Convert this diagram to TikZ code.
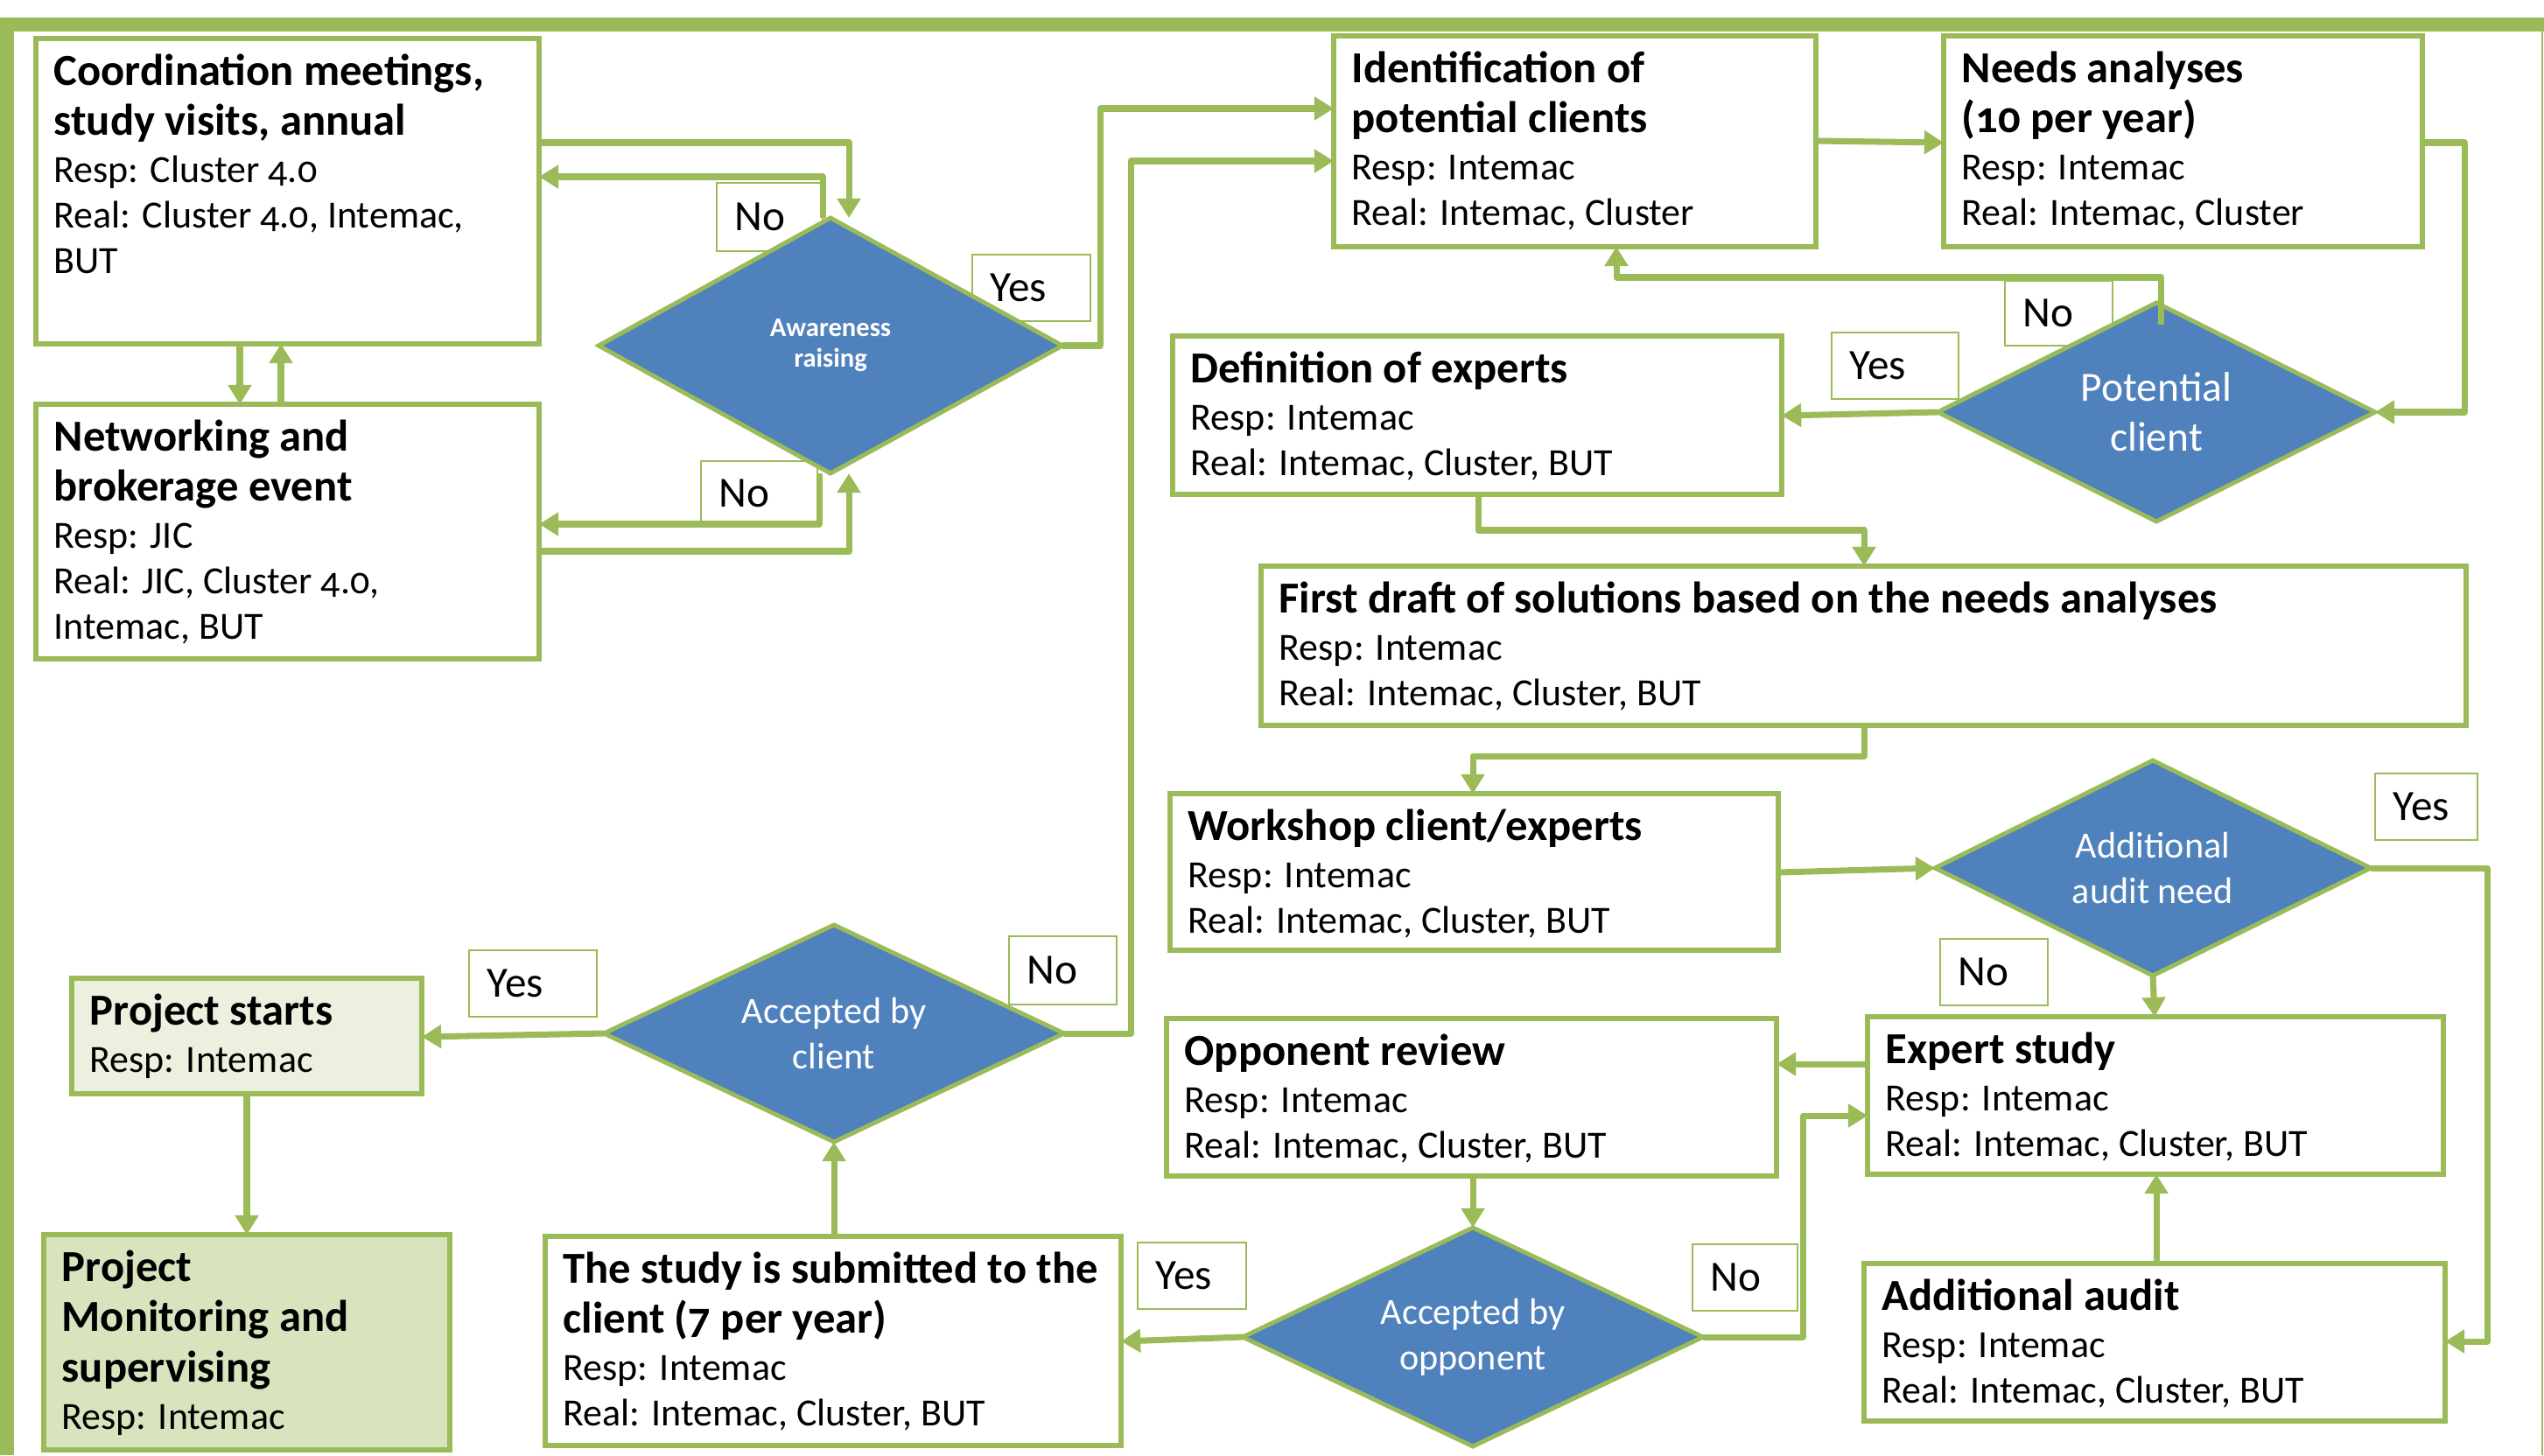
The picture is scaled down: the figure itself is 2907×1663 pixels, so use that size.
\documentclass[tikz,border=0pt]{standalone}
\usepackage{fontspec}
\setmainfont{Carlito}[Numbers=OldStyle]
\usetikzlibrary{arrows.meta,calc,shapes.geometric}
\definecolor{gr}{HTML}{9BBB59}
\definecolor{bl}{HTML}{4F81BD}
\definecolor{lgA}{HTML}{EBF1DE}
\definecolor{lgB}{HTML}{D7E4BD}
\newcommand{\ttl}{\fontsize{14.4}{14.8}\selectfont\bfseries}
\newcommand{\bdy}{\fontsize{12.5}{14.8}\selectfont\mdseries}
\tikzset{
 procbox/.style={draw=gr, line width=1.9pt, rectangle, inner sep=0pt, outer sep=0pt},
 ptext/.style={align=left, inner sep=0pt, font=\bdy},
 lblbox/.style={draw=gr, line width=0.6pt, fill=white, rectangle, inner sep=0pt, outer sep=0pt},
 lbltext/.style={inner sep=0pt, font=\fontsize{14}{17}\selectfont},
 dia/.style={diamond, aspect=2, draw=gr, line width=1.4pt, fill=bl, text=white, align=center, inner sep=0pt, outer sep=0pt},
 conn/.style={draw=gr, line width=2pt, line join=round, -{Triangle[length=6.3pt,width=7.4pt]}},
}
\newcommand{\mkproc}[7][white]{%
  \node[procbox, fill=#1, minimum width={(#5-#3)*0.01cm}, minimum height={(#6-#4)*0.01cm}, anchor=north west] (#2) at (#3,#4) {};
  \node[ptext, anchor=north west] (#2-t) at ($(#2.north west)+(20,17)$) {#7};}
\newcommand{\mklbl}[6]{%
  \node[lblbox, minimum width={(#4-#2)*0.01cm}, minimum height={(#5-#3)*0.01cm}, anchor=north west] (#1) at (#2,#3) {};
  \node[lbltext, anchor=west] (#1-t) at ($(#1.west)+(20,0)$) {#6};}
\newcommand{\mkdia}[7]{%
  \node[dia, font=#6, minimum width={#4*0.01cm}, minimum height={#5*0.01cm}] (#1) at (#2,#3) {#7};}
\begin{document}
\begin{tikzpicture}[x=0.01cm, y=-0.01cm]
\useasboundingbox (0,0) rectangle (2907,1663);
% frame
\draw[gr, line width=4.5pt] (8,1663) -- (8,28) -- (2907,28);
\draw[gr, line width=0.6pt] (2905,28) -- (2905,1663);
% yes/no labels
\mklbl{lA}{819}{209}{940}{287}{No}
\mklbl{lB}{1111}{291}{1246}{367}{Yes}
\mklbl{lC}{801}{527}{934}{601}{No}
\mklbl{lD}{2291}{321}{2414}{395}{No}
\mklbl{lE}{2093}{380}{2238}{456}{Yes}
\mklbl{lF}{2714}{884}{2831}{960}{Yes}
\mklbl{lG}{2217}{1073}{2340}{1149}{No}
\mklbl{lH}{1153}{1070}{1276}{1148}{No}
\mklbl{lI}{536}{1086}{682}{1162}{Yes}
\mklbl{lJ}{1300}{1420}{1424}{1496}{Yes}
\mklbl{lK}{1934}{1422}{2054}{1498}{No}
% process boxes
\mkproc{coord}{41}{44}{616}{393}{\ttl Coordination meetings,\\[1.6pt] \ttl study visits, annual\\[0.5pt] Resp: Cluster 4.0\\ Real: Cluster 4.0, Intemac,\\ BUT}
\mkproc{net}{41}{462}{616}{753}{\ttl Networking and\\[1.6pt] \ttl brokerage event\\[0.5pt] Resp: JIC\\ Real: JIC, Cluster 4.0,\\ Intemac, BUT}
\mkproc{ident}{1524}{41}{2075}{282}{\ttl Identification of\\[1.6pt] \ttl potential clients\\[0.5pt] Resp: Intemac\\ Real: Intemac, Cluster}
\mkproc{needs}{2221}{41}{2768}{282}{\ttl Needs analyses\\[1.6pt] \ttl (10 per year)\\[0.5pt] Resp: Intemac\\ Real: Intemac, Cluster}
\mkproc{defx}{1340}{384}{2036}{565}{\ttl Definition of experts\\[0.5pt] Resp: Intemac\\ Real: Intemac, Cluster, BUT}
\mkproc{draft}{1441}{647}{2818}{829}{\ttl First draft of solutions based on the needs analyses\\[0.5pt] Resp: Intemac\\ Real: Intemac, Cluster, BUT}
\mkproc{work}{1337}{907}{2032}{1086}{\ttl Workshop client/experts\\[0.5pt] Resp: Intemac\\ Real: Intemac, Cluster, BUT}
\mkproc{expert}{2134}{1162}{2792}{1342}{\ttl Expert study\\[0.5pt] Resp: Intemac\\ Real: Intemac, Cluster, BUT}
\mkproc{opp}{1333}{1164}{2030}{1344}{\ttl Opponent review\\[0.5pt] Resp: Intemac\\ Real: Intemac, Cluster, BUT}
\mkproc{addaud}{2130}{1444}{2794}{1624}{\ttl Additional audit\\[0.5pt] Resp: Intemac\\ Real: Intemac, Cluster, BUT}
\mkproc{subm}{623}{1413}{1281}{1652}{\ttl The study is submitted to the\\[1.6pt] \ttl client (7 per year)\\[0.5pt] Resp: Intemac\\ Real: Intemac, Cluster, BUT}
\mkproc[lgA]{pstart}{82}{1118}{482}{1250}{\ttl Project starts\\[0.5pt] Resp: Intemac}
\mkproc[lgB]{pmon}{50}{1411}{514}{1657}{\ttl Project\\[1.6pt] \ttl Monitoring and\\[1.6pt] \ttl supervising\\[0.5pt] Resp: Intemac}
% decisions
\mkdia{awr}{949}{395}{530}{292}{\fontsize{8.7}{10}\selectfont\bfseries}{Awareness\\ raising}
\mkdia{pot}{2464}{471}{500}{250}{\fontsize{13.5}{16.3}\selectfont}{Potential\\ client}
\mkdia{aan}{2460}{992}{498}{246}{\fontsize{12}{14.8}\selectfont}{Additional\\ audit need}
\mkdia{aop}{1683}{1528}{526}{250}{\fontsize{12}{14.8}\selectfont}{Accepted by\\ opponent}
\mkdia{acl}{953}{1181}{526}{248}{\fontsize{12}{14.8}\selectfont}{Accepted by\\ client}
% connectors
\draw[conn] ($(coord.north east)+(0,119)$) -| ($(awr.north)+(21,0)$);
\draw[conn] ($(awr.north)+(-9,0)$) |- ($(coord.north east)+(0,158)$);
\draw[conn] ($(awr.south)+(-13,0)$) |- ($(net.north east)+(0,137)$);
\draw[conn] ($(net.north east)+(0,168)$) -| ($(awr.south)+(21,0)$);
\draw[conn] ($(coord.south west)+(233,0)$) -- ($(net.north west)+(233,0)$);
\draw[conn] ($(net.north west)+(280,0)$) -- ($(coord.south west)+(280,0)$);
\draw[conn] (awr.east) -- ++(43,0) |- ($(ident.north west)+(0,83)$);
\draw[conn] (acl.east) -- ++(76,0) |- ($(ident.north west)+(0,143)$);
\draw[conn] ($(ident.north east)+(0,120)$) -- ($(needs.north west)+(0,122)$);
\draw[conn] ($(needs.north east)+(0,122)$) -- ++(48,0) |- (pot.east);
\draw[conn] ($(pot.north)+(5,25)$) -- ($(pot.north)+(5,-29)$) -| ($(ident.south west)+(323,0)$);
\draw[conn] (pot.west) -- ($(defx.north east)+(0,91)$);
\draw[conn] ($(defx.south west)+(349,0)$) -- ++(0,41) -| ($(draft.north west)+(689,0)$);
\draw[conn] ($(draft.south west)+(689,0)$) -- ++(0,35) -| ($(work.north west)+(346,0)$);
\draw[conn] ($(work.north east)+(0,90)$) -- (aan.west);
\draw[conn] (aan.east) -- ++(133,0) |- ($(addaud.north east)+(0,89)$);
\draw[conn] (aan.south) -- ($(expert.north west)+(328,0)$);
\draw[conn] ($(expert.north west)+(0,54)$) -- ($(opp.north east)+(0,52)$);
\draw[conn] ($(addaud.north west)+(334,0)$) -- ($(expert.south west)+(330,0)$);
\draw[conn] ($(opp.south west)+(350,0)$) -- (aop.north);
\draw[conn] (aop.east) -- ++(114,0) |- ($(expert.north west)+(0,113)$);
\draw[conn] (aop.west) -- ($(subm.north east)+(0,120)$);
\draw[conn] ($(subm.north west)+(330,0)$) -- (acl.south);
\draw[conn] (acl.west) -- ($(pstart.north east)+(0,67)$);
\draw[conn] ($(pstart.south west)+(200,0)$) -- ($(pmon.north west)+(232,0)$);
\end{tikzpicture}
\end{document}
